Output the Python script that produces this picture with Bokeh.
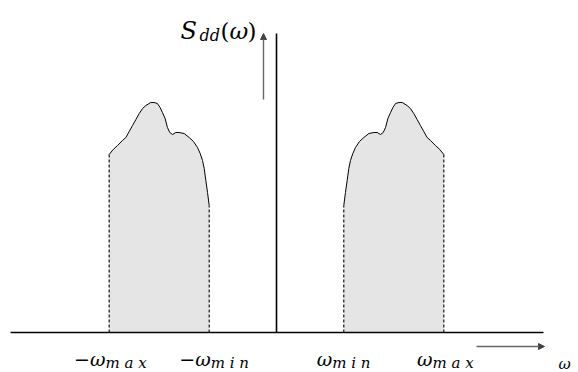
import numpy as np
from bokeh.plotting import figure
from bokeh.models import Range1d, Arrow, NormalHead, ColumnDataSource
from bokeh.core.properties import value
from bokeh.embed import file_html
from bokeh.resources import INLINE

# Band edges of the spectrum (normalised frequency units)
omega_min = 0.40
omega_max = 1.00

# Spectral density S_dd(omega) over the positive band omega_min..omega_max
omega = [0.403, 0.413, 0.423, 0.433, 0.443, 0.457, 0.473, 0.497, 0.523, 0.553,
         0.583, 0.603, 0.623, 0.639, 0.653, 0.667, 0.683, 0.697, 0.713, 0.733,
         0.753, 0.782, 0.802, 0.822, 0.842, 0.862, 0.882, 0.902, 0.922, 0.952,
         0.978, 1.002]
s_dd = [1.27, 1.40, 1.52, 1.64, 1.72, 1.79, 1.85, 1.91, 1.95, 1.99,
        2.00, 2.00, 1.98, 2.00, 2.05, 2.14, 2.20, 2.25, 2.29, 2.30,
        2.30, 2.27, 2.24, 2.19, 2.13, 2.07, 2.01, 1.95, 1.92, 1.87,
        1.83, 1.78]

# Tick labels on the frequency axis
tick_values = [-omega_max, -omega_min, omega_min, omega_max]
tick_main = ["\u2212\u03c9", "\u2212\u03c9", "\u03c9", "\u03c9"]
tick_sub = ["m a x", "m i n", "m i n", "m a x"]

# layout constants (pixels per unit)
PX_X = 167.0
PX_Y = 100.0

p = figure(width=578, height=372, output_backend="svg", toolbar_location=None,
           x_axis_type=None, y_axis_type=None, min_border=0,
           x_range=Range1d(-276 / PX_X, 302 / PX_X),
           y_range=Range1d(-40 / PX_Y, 332 / PX_Y))
p.grid.visible = False
p.outline_line_color = None
p.background_fill_color = "white"
p.border_fill_color = "white"

w = np.array(omega)
s = np.array(s_dd)

# positive band and its mirror image on the negative side
for xs, ys in ((w, s), (-w[::-1], s[::-1])):
    p.varea(x=xs, y1=np.zeros_like(ys), y2=ys, fill_color="#e5e5e5")
    p.line(x=xs, y=ys, line_color="black", line_width=1)
    p.segment(x0=[xs[0], xs[-1]], y0=[0, 0], x1=[xs[0], xs[-1]], y1=[ys[0], ys[-1]],
              line_color="black", line_width=1.1, line_dash="3 2")

# coordinate axes
p.segment(x0=[-266 / PX_X, 0], y0=[0, 0], x1=[267 / PX_X, 0], y1=[0, 299 / PX_Y],
          line_color="black", line_width=1.6)

# direction arrows
head_kw = dict(size=6, fill_color="#444444", line_color="#444444")
p.add_layout(Arrow(end=NormalHead(**head_kw), x_start=-13 / PX_X, y_start=233 / PX_Y,
                   x_end=-13 / PX_X, y_end=299 / PX_Y,
                   line_color="#666666", line_width=1.4))
p.add_layout(Arrow(end=NormalHead(**head_kw), x_start=200 / PX_X, y_start=-14 / PX_Y,
                   x_end=268 / PX_X, y_end=-14 / PX_Y,
                   line_color="#666666", line_width=1.4))

font = value("DejaVu Serif")

# tick labels: main symbol right-aligned, subscript left-aligned from the same anchor
shift = [-4, 1, -11, -11]
src = ColumnDataSource(dict(x=tick_values, main=tick_main, sub=tick_sub, dx=shift))
p.text(x="x", y=0, text="main", source=src, x_offset="dx", y_offset=26,
       text_font=font, text_font_style="italic", text_font_size="19px",
       text_align="right", text_baseline="alphabetic", text_color="black")
p.text(x="x", y=0, text="sub", source=src, x_offset="dx", y_offset=30,
       text_font=font, text_font_style="italic", text_font_size="15px",
       text_align="left", text_baseline="alphabetic", text_color="black")

# frequency axis symbol at the right edge
p.text(x=[282 / PX_X], y=[0], text=["\u03c9"], y_offset=31,
       text_font=font, text_font_style="italic", text_font_size="15px",
       text_align="left", text_baseline="alphabetic", text_color="black")

# y-axis title S_dd(omega)
ty = 302 / PX_Y
p.text(x=[-96 / PX_X], y=[ty], text=["S"], text_font=font, text_font_style="italic",
       text_font_size="24px", text_align="left", text_baseline="alphabetic")
p.text(x=[-77 / PX_X], y=[ty], text=["dd"], y_offset=5, text_font=font,
       text_font_style="italic", text_font_size="16px", text_align="left",
       text_baseline="alphabetic")
p.text(x=[-56 / PX_X], y=[ty], text=["("], text_font=font,
       text_font_size="23px", text_align="left", text_baseline="alphabetic")
p.text(x=[-47 / PX_X], y=[ty], text=["\u03c9"], text_font=font, text_font_style="italic",
       text_font_size="23px", text_align="left", text_baseline="alphabetic")
p.text(x=[-29 / PX_X], y=[ty], text=[")"], text_font=font,
       text_font_size="23px", text_align="left", text_baseline="alphabetic")

open("out.html", "w").write(file_html(p, INLINE))
